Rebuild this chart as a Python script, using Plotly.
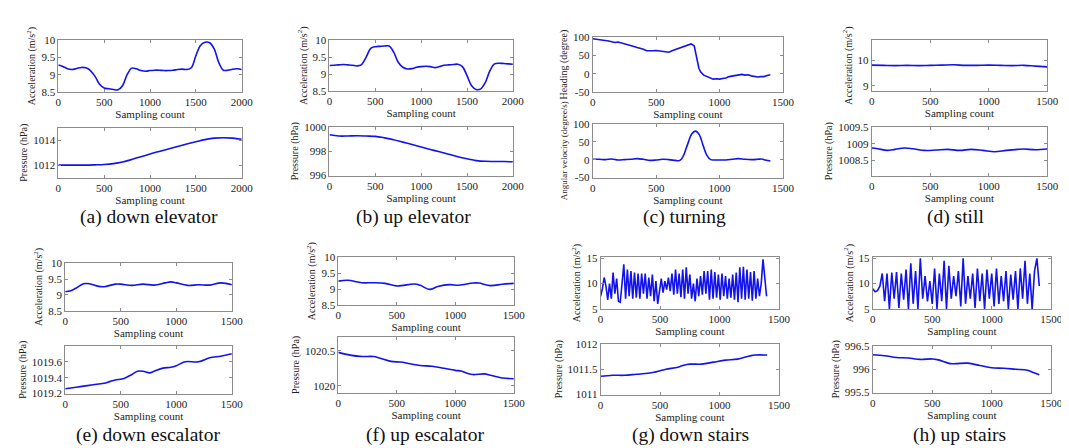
import plotly.graph_objects as go
import numpy as np

W, H = 1069, 448

# ---------------- data ----------------
# (a) down elevator
a_acc_x = list(range(0, 2001, 50))
a_acc_y = [9.28, 9.24, 9.17, 9.15, 9.18, 9.21, 9.20, 9.12, 8.95, 8.72, 8.61, 8.59, 8.57, 8.56,
           8.68, 9.00, 9.19, 9.17, 9.12, 9.10, 9.12, 9.13, 9.13, 9.12, 9.12, 9.13, 9.15, 9.16,
           9.15, 9.20, 9.55, 9.85, 9.94, 9.93, 9.75, 9.35, 9.13, 9.13, 9.16, 9.17, 9.15]
a_pre_x = list(range(0, 2001, 100))
a_pre_y = [1012.0, 1012.0, 1012.0, 1012.0, 1012.02, 1012.05, 1012.12, 1012.25, 1012.45, 1012.68,
           1012.9, 1013.1, 1013.3, 1013.5, 1013.7, 1013.88, 1014.05, 1014.17, 1014.2, 1014.17, 1014.08]

# (b) up elevator
b_acc_x = list(range(0, 2001, 50))
b_acc_y = [9.25, 9.26, 9.27, 9.28, 9.27, 9.26, 9.24, 9.28, 9.50, 9.76, 9.81, 9.82, 9.83, 9.83,
           9.65, 9.35, 9.20, 9.15, 9.16, 9.20, 9.22, 9.23, 9.22, 9.19, 9.22, 9.26, 9.27, 9.28,
           9.29, 9.22, 8.95, 8.65, 8.54, 8.56, 8.75, 9.10, 9.30, 9.32, 9.31, 9.30, 9.29]
b_pre_x = list(range(0, 2001, 100))
b_pre_y = [999.35, 999.25, 999.25, 999.27, 999.25, 999.22, 999.1, 998.95, 998.75, 998.55, 998.35,
           998.15, 997.95, 997.75, 997.55, 997.38, 997.23, 997.17, 997.16, 997.15, 997.13]

# (c) turning
c_head_x = [0, 25, 50, 75, 100, 125, 150, 175, 200, 225, 250, 275, 300, 325, 350, 375, 400, 425,
            450, 475, 500, 525, 550, 575, 600, 625, 650, 675, 700, 725, 750, 775, 800, 812, 825,
            837, 850, 875, 900, 925, 950, 975, 1000, 1025, 1050, 1075, 1100, 1125, 1150, 1175,
            1200, 1225, 1250, 1275, 1300, 1325, 1350, 1375, 1400]
c_head_y = [96, 95, 95, 93, 91, 90, 88, 86, 87, 85, 82, 79, 78, 75, 72, 70, 67, 63, 62, 63, 64,
            63, 62, 61, 59, 63, 66, 69, 72, 75, 78, 82, 77, 60, 35, 15, 5, -4, -8, -12, -15, -14,
            -15, -13, -12, -8, -6, -5, -3, -2, -4, -3, -6, -8, -9, -8, -8, -5, -3]
c_ang_x = [0, 50, 100, 150, 200, 250, 300, 350, 400, 450, 500, 550, 600, 650, 680, 700, 720, 750,
           780, 810, 840, 870, 900, 930, 960, 1000, 1050, 1100, 1150, 1200, 1250, 1300, 1330, 1350, 1400]
c_ang_y = [1, 1, 0, 2, -1, 0, 1, 3, 1, -2, -1, 1, 0, -2, -3, 2, 15, 45, 72, 80, 70, 40, 12, 0, -1,
           -1, -1, 1, 3, 1, 0, 1, 2, 0, -4]

# (d) still
d_acc_x = list(range(0, 1501, 100))
d_acc_y = [9.82, 9.81, 9.80, 9.81, 9.80, 9.81, 9.82, 9.83, 9.81, 9.81, 9.82, 9.81, 9.80, 9.81, 9.78, 9.75]
d_pre_x = [0, 50, 130, 200, 280, 350, 450, 550, 650, 750, 850, 950, 1050, 1150, 1250, 1300, 1400, 1500]
d_pre_y = [1008.87, 1008.85, 1008.80, 1008.83, 1008.87, 1008.85, 1008.80, 1008.81, 1008.83, 1008.80,
           1008.83, 1008.80, 1008.76, 1008.80, 1008.83, 1008.84, 1008.82, 1008.84]

# (e) down escalator
e_acc_x = [0, 50, 100, 150, 180, 220, 300, 350, 450, 500, 600, 700, 800, 900, 950, 1000, 1100, 1200, 1300, 1400, 1500]
e_acc_y = [9.10, 9.13, 9.22, 9.33, 9.36, 9.35, 9.27, 9.26, 9.34, 9.34, 9.30, 9.34, 9.31, 9.38, 9.41,
           9.38, 9.30, 9.32, 9.31, 9.38, 9.32]
e_pre_x = [0, 100, 200, 300, 350, 400, 450, 530, 600, 650, 700, 760, 800, 880, 950, 1000, 1080, 1200, 1300, 1400, 1500]
e_pre_y = [1019.26, 1019.28, 1019.30, 1019.32, 1019.33, 1019.35, 1019.37, 1019.39, 1019.44, 1019.48,
           1019.48, 1019.46, 1019.48, 1019.52, 1019.53, 1019.55, 1019.60, 1019.60, 1019.65, 1019.67, 1019.70]

# (f) up escalator
f_acc_x = [0, 80, 200, 300, 400, 500, 650, 700, 780, 850, 950, 1030, 1150, 1200, 1300, 1400, 1500]
f_acc_y = [9.25, 9.28, 9.20, 9.20, 9.18, 9.10, 9.16, 9.12, 8.99, 9.08, 9.14, 9.12, 9.19, 9.19, 9.11, 9.15, 9.18]
f_pre_x = [0, 100, 200, 300, 350, 450, 530, 600, 700, 800, 900, 1000, 1050, 1100, 1150, 1250, 1300, 1400, 1500]
f_pre_y = [1020.48, 1020.44, 1020.42, 1020.42, 1020.40, 1020.35, 1020.34, 1020.32, 1020.29, 1020.28,
           1020.25, 1020.22, 1020.21, 1020.18, 1020.16, 1020.17, 1020.15, 1020.11, 1020.10]

# (g) down stairs  (one sample every 15 counts)
g_acc_step = 15
g_acc_y = [7.5, 9.0, 11.2, 9.5, 6.8, 10.0, 7.0, 12.2, 8.0, 11.0,
           6.5, 6.3, 10.0, 13.8, 7.0, 12.8, 7.5, 12.5, 7.0, 12.2,
           7.2, 12.0, 7.0, 12.0, 8.0, 12.0, 7.0, 11.2, 7.5, 11.8,
           6.5, 10.5, 6.0, 8.5, 11.0, 8.2, 10.5, 8.8, 11.2, 8.5,
           12.0, 7.8, 12.8, 8.0, 12.0, 7.3, 12.8, 7.0, 13.2, 8.0,
           11.8, 7.0, 10.0, 6.5, 11.0, 7.5, 11.5, 7.8, 12.5, 8.0,
           12.5, 6.8, 12.8, 7.0, 12.3, 7.2, 11.8, 6.8, 12.0, 7.5,
           11.5, 7.0, 11.0, 7.2, 11.8, 6.8, 12.2, 6.3, 13.2, 7.0,
           13.3, 6.8, 12.8, 7.0, 12.3, 6.6, 12.5, 7.0, 11.0, 7.5, 10.0, 14.8, 11.0, 7.5]
g_pre_x = [0, 100, 200, 300, 400, 450, 500, 550, 650, 700, 750, 850, 950, 1050, 1150, 1250, 1300, 1400]
g_pre_y = [1011.36, 1011.38, 1011.38, 1011.40, 1011.42, 1011.44, 1011.47, 1011.50, 1011.54, 1011.58,
           1011.60, 1011.60, 1011.64, 1011.68, 1011.70, 1011.76, 1011.78, 1011.78]

# (h) up stairs  (one sample every 20 counts)
h_acc_step = 20
h_acc_y = [9.0, 8.4, 8.6, 9.5, 12.0, 6.5, 12.0, 5.0, 12.2, 7.0,
           12.3, 5.2, 12.0, 6.8, 12.8, 5.0, 14.0, 6.0, 12.5, 5.0,
           15.0, 7.0, 11.5, 6.5, 10.5, 6.0, 13.0, 5.0, 12.0, 6.5,
           14.5, 5.0, 13.5, 7.0, 11.5, 7.5, 12.5, 5.5, 15.0, 6.0,
           11.5, 7.0, 12.0, 5.2, 13.0, 6.5, 12.0, 5.0, 12.8, 7.0,
           12.0, 5.5, 13.0, 6.0, 11.5, 6.5, 12.5, 5.0, 11.8, 6.8,
           12.5, 5.0, 13.0, 7.0, 14.5, 6.0, 12.0, 5.0, 12.5, 15.0, 9.5]
h_pre_x = [0, 100, 200, 300, 400, 500, 550, 650, 700, 800, 900, 1000, 1100, 1200, 1300, 1350, 1400]
h_pre_y = [996.31, 996.29, 996.25, 996.24, 996.21, 996.22, 996.20, 996.12, 996.12, 996.13, 996.08,
           996.03, 996.02, 996.00, 995.98, 995.93, 995.88]

captions = ["(a) down elevator", "(b) up elevator", "(c) turning", "(d) still",
            "(e) down escalator", "(f) up escalator", "(g) down stairs", "(h) up stairs"]

ACC = "Acceleration (m/s<sup>2</sup>)"
PRE = "Pressure (hPa)"
HEAD = "Heading (degree)"
ANG = "Angular velocity (degree/s)"

g_acc_x = list(np.arange(len(g_acc_y)) * g_acc_step)
h_acc_x = list(np.arange(len(h_acc_y)) * h_acc_step)

X2000 = [0, 500, 1000, 1500, 2000]
X1500 = [0, 500, 1000, 1500]

panels = [
    (a_acc_x, a_acc_y, [0, 2000], X2000, [8.5, 10.0], [8.5, 9, 9.5, 10], ACC, "spline"),
    (a_pre_x, a_pre_y, [0, 2000], X2000, [1011, 1015], [1012, 1014], PRE, "spline"),
    (b_acc_x, b_acc_y, [0, 2000], X2000, [8.5, 10.0], [8.5, 9, 9.5, 10], ACC, "spline"),
    (b_pre_x, b_pre_y, [0, 2000], X2000, [996, 1000], [996, 998, 1000], PRE, "spline"),
    (c_head_x, c_head_y, [0, 1500], X1500, [-50, 100], [-50, 0, 50, 100], HEAD, "linear"),
    (c_ang_x, c_ang_y, [0, 1500], X1500, [-50, 100], [-50, 0, 50, 100], ANG, "spline"),
    (d_acc_x, d_acc_y, [0, 1500], X1500, [8.8, 10.8], [9, 10], ACC, "spline"),
    (d_pre_x, d_pre_y, [0, 1500], X1500, [1008.05, 1009.5], [1008.5, 1009, 1009.5], PRE, "spline"),
    (e_acc_x, e_acc_y, [0, 1500], X1500, [8.5, 10.0], [8.5, 9, 9.5, 10], ACC, "spline"),
    (e_pre_x, e_pre_y, [0, 1500], X1500, [1019.2, 1019.8], [1019.2, 1019.4, 1019.6], PRE, "spline"),
    (f_acc_x, f_acc_y, [0, 1500], X1500, [8.5, 10.0], [8.5, 9, 9.5, 10], ACC, "spline"),
    (f_pre_x, f_pre_y, [0, 1500], X1500, [1019.9, 1020.7], [1020, 1020.5], PRE, "spline"),
    (g_acc_x, g_acc_y, [0, 1500], X1500, [5, 15.2], [5, 10, 15], ACC, "linear"),
    (g_pre_x, g_pre_y, [0, 1500], X1500, [1011, 1012], [1011, 1011.5, 1012], PRE, "spline"),
    (h_acc_x, h_acc_y, [0, 1500], X1500, [5, 15.2], [5, 10, 15], ACC, "linear"),
    (h_pre_x, h_pre_y, [0, 1500], X1500, [995.5, 996.5], [995.5, 996, 996.5], PRE, "spline"),
]

# plot-area boxes in pixels: (left, right, top, bottom)
boxes = [
    (48, 234, 27, 80), (48, 234, 117, 168),
    (323, 509, 27, 79), (323, 509, 116, 166),
    (590, 783, 24, 80), (590, 783, 113, 168),
    (873, 1051, 27, 79), (873, 1051, 116, 166),
    (55, 224, 256, 305), (55, 224, 341, 390),
    (332, 510, 250, 299), (332, 510, 332, 389),
    (598, 779, 250, 303), (598, 779, 339, 391),
    (874, 1055, 250, 303), (874, 1055, 341, 389),
]
caption_pos = [(140, 209), (408, 209), (683, 209), (958, 209),
               (139, 433), (420, 433), (689, 433), (962, 433)]

FONT = "'Liberation Serif', 'Times New Roman', Times, serif"
LINE = "rgb(18,18,235)"
AX = "#8c8c8c"
TXT = "#222222"

fig = go.Figure()
layout = dict(
    width=W, height=H, margin=dict(l=0, r=0, t=0, b=0),
    paper_bgcolor="white", plot_bgcolor="white", showlegend=False,
    font=dict(family=FONT, size=11, color=TXT),
)

for i, (px, py, xr, xt, yr, yt, ytitle, shape) in enumerate(panels):
    n = i + 1
    xa = "x" if n == 1 else "x%d" % n
    ya = "y" if n == 1 else "y%d" % n
    line = dict(color=LINE, width=1.6, shape=shape)
    if shape == "spline":
        line["smoothing"] = 1.0
    fig.add_trace(go.Scatter(x=px, y=py, xaxis=xa, yaxis=ya, mode="lines", line=line,
                             cliponaxis=True))
    l, r, t, b = boxes[i]
    common = dict(showline=True, linecolor=AX, linewidth=1, mirror="ticks",
                  ticks="inside", ticklen=3, tickcolor=AX, showgrid=False, zeroline=False,
                  tickfont=dict(family=FONT, size=11, color=TXT))
    ytsize = 9 if ytitle == ANG else 10
    layout["xaxis" if n == 1 else "xaxis%d" % n] = dict(
        domain=[l / W, r / W], anchor=ya, range=xr, tickvals=xt,
        ticktext=["%g" % v for v in xt],
        title=dict(text="Sampling count", font=dict(family=FONT, size=11, color=TXT), standoff=1),
        **common)
    layout["yaxis" if n == 1 else "yaxis%d" % n] = dict(
        domain=[1 - b / H, 1 - t / H], anchor=xa, range=yr, tickvals=yt,
        ticktext=["%g" % v for v in yt],
        title=dict(text=ytitle, font=dict(family=FONT, size=ytsize, color=TXT), standoff=3),
        **common)

fig.update_layout(**layout)

for (cx, cy), txt in zip(caption_pos, captions):
    fig.add_annotation(x=cx / W, y=1 - cy / H, xref="paper", yref="paper", text=txt,
                       showarrow=False, font=dict(family=FONT, size=19.5, color="#111111"),
                       xanchor="center", yanchor="middle", borderpad=0)

fig.write_html("out.html")
